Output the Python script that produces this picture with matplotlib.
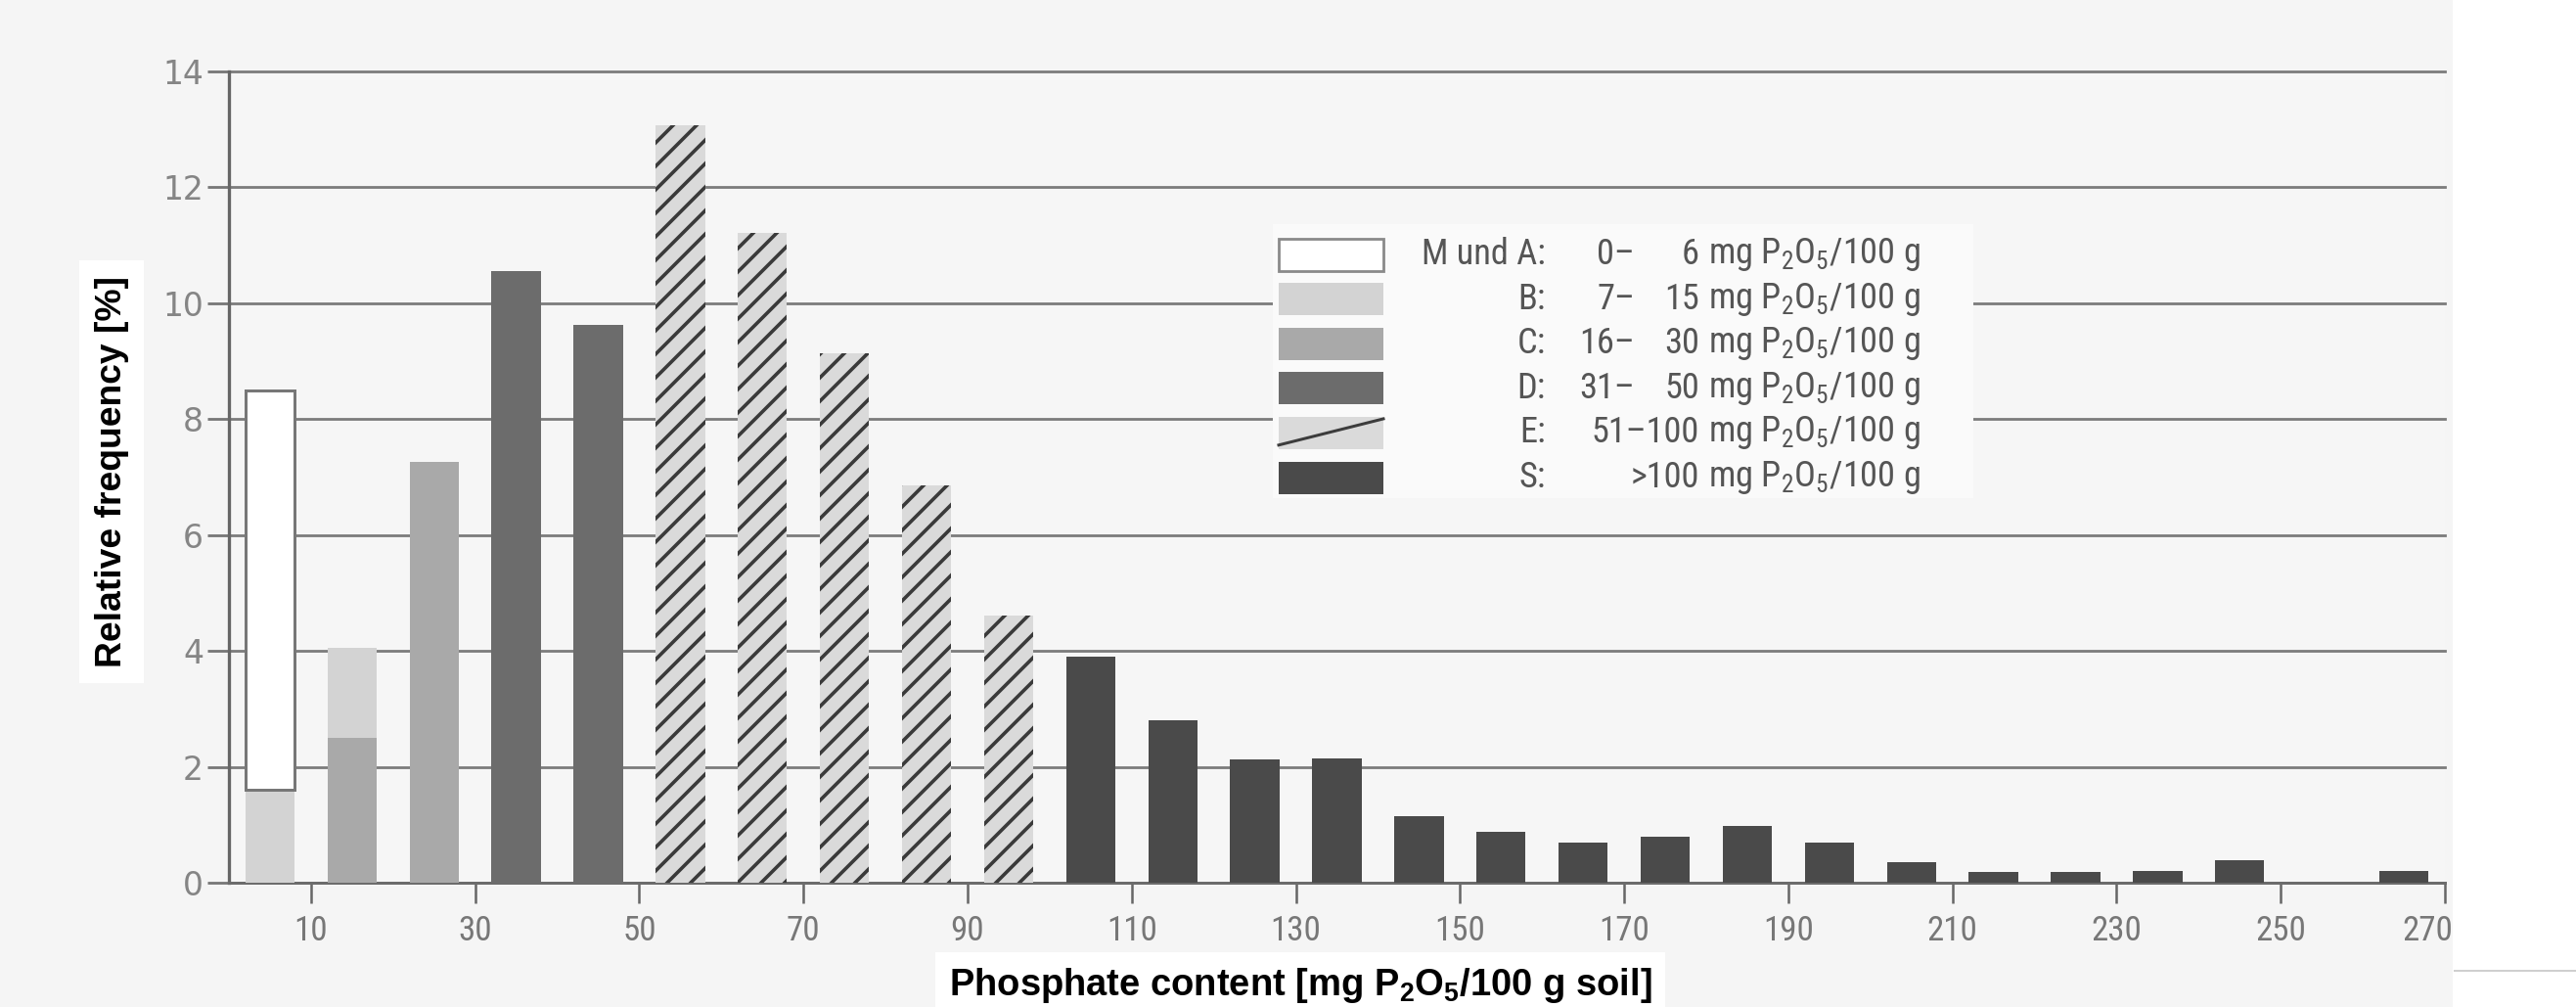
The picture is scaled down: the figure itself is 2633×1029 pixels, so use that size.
import numpy as np
import matplotlib
matplotlib.use("Agg")
import matplotlib.pyplot as plt
from matplotlib import font_manager
from matplotlib.patches import Rectangle
from matplotlib.lines import Line2D
from matplotlib.transforms import ScaledTranslation

# class midpoints [mg P2O5/100 g soil]
bins = [5, 15, 25, 35, 45, 55, 65, 75, 85, 95, 105, 115, 125, 135,
        145, 155, 165, 175, 185, 195, 205, 215, 225, 235, 245, 255, 265]

# relative frequency [%] per supply class (stacked C, B, A, D, E, S)
freq_c = [0, 2.5, 7.27, 0, 0, 0, 0, 0, 0, 0, 0, 0, 0, 0,
          0, 0, 0, 0, 0, 0, 0, 0, 0, 0, 0, 0, 0]
freq_b = [1.6, 1.55, 0, 0, 0, 0, 0, 0, 0, 0, 0, 0, 0, 0,
          0, 0, 0, 0, 0, 0, 0, 0, 0, 0, 0, 0, 0]
freq_a = [6.9, 0, 0, 0, 0, 0, 0, 0, 0, 0, 0, 0, 0, 0,
          0, 0, 0, 0, 0, 0, 0, 0, 0, 0, 0, 0, 0]
freq_d = [0, 0, 0, 10.56, 9.63, 0, 0, 0, 0, 0, 0, 0, 0, 0,
          0, 0, 0, 0, 0, 0, 0, 0, 0, 0, 0, 0, 0]
freq_e = [0, 0, 0, 0, 0, 13.07, 11.22, 9.13, 6.86, 4.61, 0, 0, 0, 0,
          0, 0, 0, 0, 0, 0, 0, 0, 0, 0, 0, 0, 0]
freq_s = [0, 0, 0, 0, 0, 0, 0, 0, 0, 0, 3.9, 2.8, 2.12, 2.14,
          1.15, 0.88, 0.7, 0.8, 0.98, 0.7, 0.36, 0.19, 0.19, 0.2, 0.38, 0, 0.2]

xticks = [10, 30, 50, 70, 90, 110, 130, 150, 170, 190, 210, 230, 250, 270]
yticks = [0, 2, 4, 6, 8, 10, 12, 14]

leg_class = ["M und A:", "B:", "C:", "D:", "E:", "S:"]
leg_lo = ["0\u2013", "7\u2013", "16\u2013", "31\u2013", "", ""]
leg_hi = ["6", "15", "30", "50", "51\u2013100", ">100"]
leg_unit = r"mg P$_2$O$_5$/100 g"


def pick(names):
    for n in names:
        try:
            font_manager.findfont(n, fallback_to_default=False)
            return n
        except ValueError:
            pass
    return "DejaVu Sans"


def fit(txt, target_px, along="x"):
    # scale font so the text spans target_px pixels
    r = fig.canvas.get_renderer()
    bb = txt.get_window_extent(r)
    size = bb.width if along == "x" else bb.height
    txt.set_fontsize(txt.get_fontsize() * target_px / size)


narrow = pick(["Liberation Sans Narrow", "Roboto Condensed", "Liberation Sans"])
arial = pick(["Liberation Sans", "DejaVu Sans"])
plt.rcParams["mathtext.default"] = "regular"
plt.rcParams["hatch.linewidth"] = 3.6

col_a, col_b, col_c, col_d, col_e, col_s = "white", "#d3d3d3", "#a9a9a9", "#6c6c6c", "#dadada", "#4a4a4a"

# 72 dpi: one point is one pixel, and the hatch repeats every 12 px
W, H = 2633, 1029
DPI = 72
fig = plt.figure(figsize=(W / DPI, H / DPI), dpi=DPI, facecolor="#f5f5f5")
ax = fig.add_axes([234 / W, 1 - 902 / H, (2499 - 234) / W, (902 - 73) / H])
ax.set_facecolor("#f6f6f6")
ax.set_xlim(0, 270)
ax.set_ylim(0, 14)

series = [
    (freq_c, col_c, None, "none", 0),
    (freq_b, col_b, None, "none", 0),
    (freq_a, col_a, None, "#777777", 3),
    (freq_d, col_d, None, "none", 0),
    (freq_e, col_e, "/", "#3a3a3a", 0),
    (freq_s, col_s, None, "none", 0),
]
bottom = np.zeros(len(bins))
for vals, fc, hatch, ec, lw in series:
    vals = np.array(vals, dtype=float)
    keep = vals > 0
    ax.bar(np.array(bins)[keep], vals[keep], width=6, bottom=bottom[keep],
           color=fc, hatch=hatch, edgecolor=ec, linewidth=lw, zorder=3)
    bottom += vals

ax.set_yticks(yticks)
ax.set_xticks(xticks)
ax.yaxis.grid(True, color="#7c7c7c", linewidth=2.8)
for gl in ax.get_ygridlines():
    gl.set_clip_on(False)
ax.set_axisbelow(True)
for s in ["top", "right"]:
    ax.spines[s].set_visible(False)
ax.spines["left"].set_color("#666666")
ax.spines["left"].set_linewidth(3.3)
ax.spines["bottom"].set_color("#6c6c6c")
ax.spines["bottom"].set_linewidth(3)
ax.tick_params(axis="y", direction="out", length=22, width=2.8, color="#777777",
               labelsize=33, labelcolor="#858585", pad=4)
ax.tick_params(axis="x", direction="out", length=21, width=2.5, color="#666666",
               labelsize=35, labelcolor="#777777", pad=12)
xlabels = ax.get_xticklabels()
for lab in xlabels:
    lab.set_family(narrow)
# last label sits a little left of its tick in the original
xlabels[-1].set_transform(xlabels[-1].get_transform() +
                          ScaledTranslation(-18 / DPI, 0, fig.dpi_scale_trans))

ylab = fig.text(114 / W, 1 - 482 / H, "Relative frequency [%]", rotation=90, ha="center",
                va="center", fontsize=35, fontweight="bold", family=arial, color="black",
                bbox=dict(fc="white", ec="none", pad=15))
xlab = fig.text(1329 / W, 1 - 1017 / H, r"Phosphate content [mg P$_2$O$_5$/100 g soil]",
                ha="center", va="baseline", fontsize=35, fontweight="bold", family=arial,
                color="black", bbox=dict(fc="white", ec="none", pad=12.5))
fit(ylab, 399, along="y")
fit(xlab, 718)

# legend, drawn by hand in figure coordinates
fig.add_artist(Rectangle((0.494, 0.505), 0.272, 0.272, transform=fig.transFigure,
                         fc="#fafafa", ec="none", zorder=1))
leg_cols = [col_a, col_b, col_c, col_d, col_e, col_s]
px, pw, ph = 1307 / W, 107 / W, 33 / H
y0, dy = 1 - 260 / H, 45.6 / H
probe = fig.text(0, 0, "M und A:", fontsize=33, family=narrow)
fit(probe, 127)
leg_size = probe.get_fontsize()
probe.remove()
for i in range(6):
    yc = y0 - i * dy
    ec = "#8a8a8a" if i == 0 else "none"
    fig.add_artist(Rectangle((px, yc - ph / 2), pw, ph, transform=fig.transFigure,
                             fc=leg_cols[i], ec=ec, lw=2.8, zorder=1.5))
    if i == 4:
        fig.add_artist(Line2D([px, px + pw], [yc - ph / 2 + 0.004, yc + ph / 2 - 0.002],
                              transform=fig.transFigure, color="#3c3c3c", lw=3, zorder=1.6))
    kw = dict(va="center", fontsize=leg_size, family=narrow, color="#555555", zorder=3)
    fig.text(1580 / W, yc, leg_class[i], ha="right", **kw)
    fig.text(1671 / W, yc, leg_lo[i], ha="right", **kw)
    fig.text(1737 / W, yc, leg_hi[i], ha="right", **kw)
    fig.text(1746 / W, yc, leg_unit, ha="left", **kw)

# blank strip of the scanned page on the right
fig.add_artist(Rectangle((2507 / W, 0), 1 - 2507 / W, 1, transform=fig.transFigure,
                         fc="white", ec="none", zorder=5))
fig.add_artist(Line2D([2509 / W, 1], [1 - 992 / H, 1 - 992 / H], transform=fig.transFigure,
                      color="#cfcfcf", lw=2, zorder=6))

fig.savefig("out.png", dpi=DPI, facecolor=fig.get_facecolor())
